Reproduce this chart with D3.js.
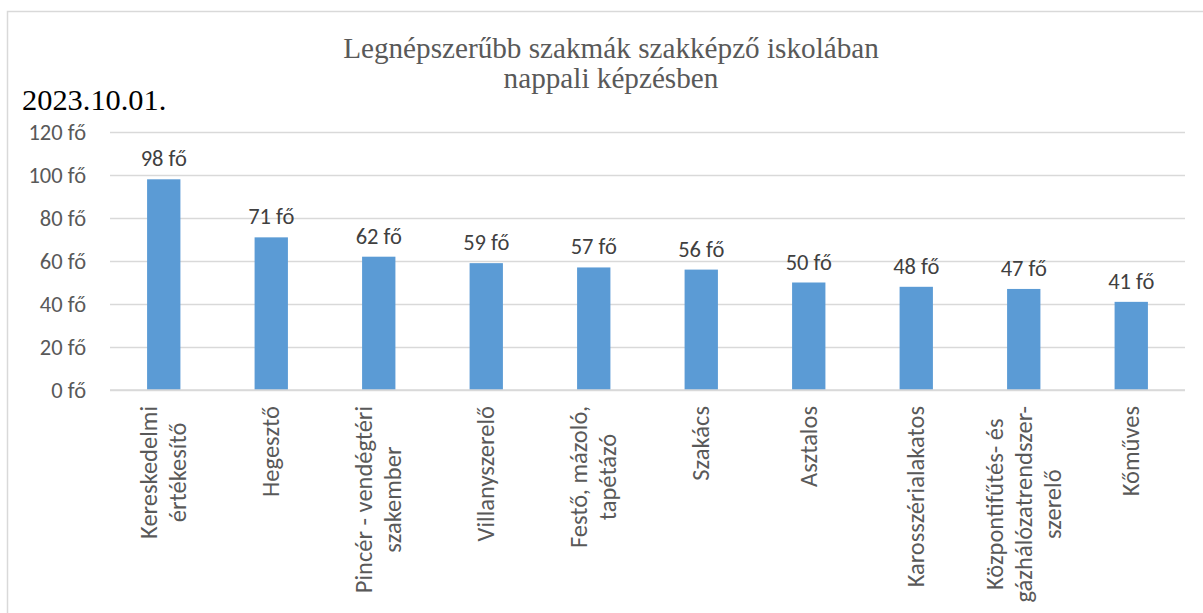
<!DOCTYPE html>
<html>
<head>
<meta charset="utf-8">
<script src="https://cdn.jsdelivr.net/npm/d3@7"></script>
<style>
  html, body { margin: 0; padding: 0; background: #fff; }
  svg { display: block; }
</style>
</head>
<body>
<div id="chart"></div>
<script>
// adatok
const categories = [
    ["Kereskedelmi", "értékesítő"],
    ["Hegesztő"],
    ["Pincér - vendégtéri", "szakember"],
    ["Villanyszerelő"],
    ["Festő, mázoló,", "tapétázó"],
    ["Szakács"],
    ["Asztalos"],
    ["Karosszérialakatos"],
    ["Központifűtés- és", "gázhálózatrendszer-", "szerelő"],
    ["Kőműves"]
];
const values = [98, 71, 62, 59, 57, 56, 50, 48, 47, 41];
const yTicks = [0, 20, 40, 60, 80, 100, 120];
const titleLines = ["Legnépszerűbb szakmák szakképző iskolában", "nappali képzésben"];
const dateLabel = "2023.10.01.";

const W = 1203, H = 613;
const margin = { top: 132, right: 18, bottom: 223, left: 110 };
const sans = "Carlito, Lato, 'Open Sans', sans-serif";
const serif = "'Liberation Serif', 'Times New Roman', serif";

const svg = d3.select("#chart").append("svg")
    .attr("width", W).attr("height", H);

// keret
svg.append("rect")
    .attr("x", 7.5).attr("y", 11.5)
    .attr("width", W + 20).attr("height", H + 20)
    .attr("fill", "none")
    .attr("stroke", "#d9d9d9")
    .attr("stroke-width", 1.5);

const x = d3.scaleBand()
    .domain(d3.range(categories.length))
    .range([margin.left, W - margin.right])
    .paddingInner(0.69)
    .paddingOuter(0.345);

const y = d3.scaleLinear()
    .domain([0, 120])
    .range([H - margin.bottom, margin.top]);

// rács
const gGrid = svg.append("g")
    .attr("transform", `translate(${margin.left},0)`)
    .call(d3.axisLeft(y).tickValues(yTicks).tickSize(-(W - margin.right - margin.left)).tickFormat(""));
gGrid.select(".domain").remove();
gGrid.selectAll("line").attr("stroke", "#d9d9d9").attr("stroke-width", 1.3);

// y tengely
const gy = svg.append("g")
    .attr("transform", `translate(${margin.left},0)`)
    .call(d3.axisLeft(y).tickValues(yTicks).tickSize(0).tickPadding(24).tickFormat(d => d + " fő"));
gy.select(".domain").remove();
gy.selectAll("text")
    .attr("font-family", sans)
    .attr("font-size", 22.5)
    .attr("fill", "#595959");

// oszlopok
svg.append("g").selectAll("rect")
    .data(values)
    .join("rect")
    .attr("x", (d, i) => x(i))
    .attr("y", d => y(d))
    .attr("width", x.bandwidth())
    .attr("height", d => y(0) - y(d))
    .attr("fill", "#5b9bd5");

// x tengely vonal
svg.append("line")
    .attr("x1", margin.left).attr("x2", W - margin.right)
    .attr("y1", y(0)).attr("y2", y(0))
    .attr("stroke", "#d9d9d9").attr("stroke-width", 1.5);

// adatcímkék
svg.append("g").selectAll("text")
    .data(values)
    .join("text")
    .attr("x", (d, i) => x(i) + x.bandwidth() / 2)
    .attr("y", d => y(d) - 13)
    .attr("text-anchor", "middle")
    .attr("font-family", sans)
    .attr("font-size", 22.5)
    .attr("fill", "#404040")
    .text(d => d + " fő");

// kategória címkék (elforgatva)
const lineH = 29;
const labelTop = y(0) + 16;
const gLab = svg.append("g");
categories.forEach((lines, i) => {
    const cx = x(i) + x.bandwidth() / 2;
    const t = gLab.append("text")
        .attr("font-family", sans)
        .attr("font-size", 24.5)
        .attr("fill", "#595959")
        .attr("text-anchor", "middle")
        .attr("dominant-baseline", "central");
    const spans = lines.map((s, j) => t.append("tspan")
        .attr("x", 0)
        .attr("y", (j - (lines.length - 1) / 2) * lineH)
        .text(s));
    const maxW = d3.max(spans, s => s.node().getComputedTextLength());
    t.attr("transform", `translate(${cx},${labelTop + maxW / 2}) rotate(-90)`);
});

// cím
svg.append("text")
    .attr("y", 58)
    .attr("text-anchor", "middle")
    .attr("font-family", serif)
    .attr("font-size", 29.2)
    .attr("fill", "#595959")
    .selectAll("tspan")
    .data(titleLines)
    .join("tspan")
    .attr("x", 611)
    .attr("dy", (d, i) => i === 0 ? 0 : 30)
    .text(d => d);

svg.append("text")
    .attr("x", 22).attr("y", 110)
    .attr("font-family", serif)
    .attr("font-size", 30.4)
    .attr("fill", "#000")
    .text(dateLabel);
</script>
</body>
</html>
